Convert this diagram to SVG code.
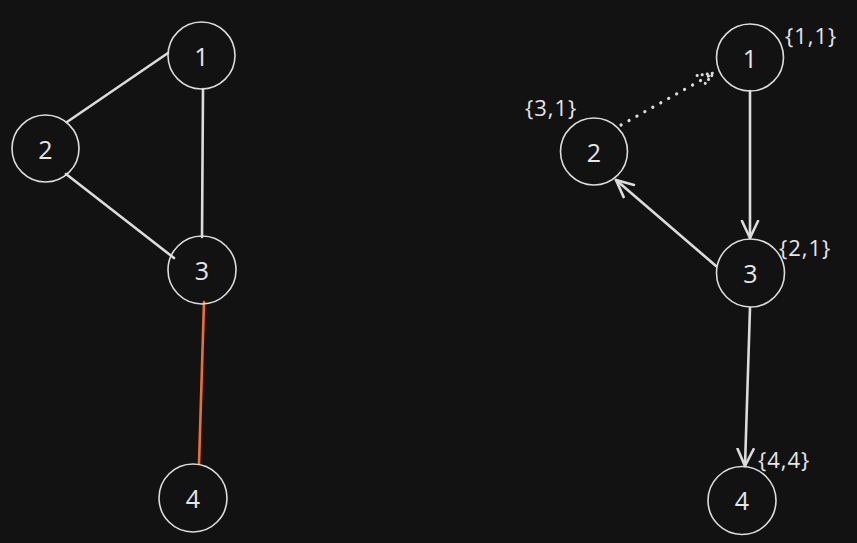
<svg xmlns="http://www.w3.org/2000/svg" width="857" height="543" viewBox="0 0 857 543">
<defs>
<style>
.node circle{fill:none;stroke:#dcdcdc;stroke-width:1.6}
.node text{fill:#e6e6e6;font-family:"Open Sans","Liberation Sans",sans-serif;font-size:25px;text-anchor:middle;dominant-baseline:central}
.node text.lbl{font-size:22px;text-anchor:start;dominant-baseline:auto;letter-spacing:1px}
.e{stroke:#dcdcdc;stroke-width:2.6;fill:none;stroke-linecap:round}
.dot{stroke-dasharray:0.1 9;stroke-width:3.2}
</style>
<marker id="ah" viewBox="0 0 20 20" refX="18" refY="10" markerWidth="20" markerHeight="20" markerUnits="userSpaceOnUse" orient="auto">
<path d="M1 2 L18 10 L1 18" fill="none" stroke="#dcdcdc" stroke-width="2.6" stroke-linecap="round" stroke-linejoin="round"/>
</marker>
<marker id="ahd" viewBox="0 0 20 20" refX="18" refY="10" markerWidth="20" markerHeight="20" markerUnits="userSpaceOnUse" orient="auto">
<path d="M2 4 L18 10 L2 16" fill="none" stroke="#dcdcdc" stroke-width="3" stroke-linecap="round" stroke-dasharray="0.1 5"/>
</marker>
</defs>
<rect width="857" height="543" fill="#121212"/>
<g id="connectors">
<line class="e" x1="168" y1="53" x2="67" y2="122"/>
<line class="e" x1="66" y1="174" x2="174" y2="258"/>
<line class="e" x1="203" y1="89" x2="202" y2="237"/>
<line class="e" x1="204" y1="302" x2="199" y2="464" style="stroke:#f07124"/>
<line class="e" x1="750" y1="91" x2="750" y2="238" marker-end="url(#ah)"/>
<line class="e" x1="716" y1="266" x2="616" y2="180" marker-end="url(#ah)"/>
<line class="e dot" x1="621" y1="125" x2="714" y2="73" marker-end="url(#ahd)"/>
<line class="e" x1="750" y1="308" x2="745" y2="466" marker-end="url(#ah)"/>
</g>
<g id="l1" class="node"><circle cx="201.5" cy="55.5" r="33.5"/><text x="201.5" y="56">1</text></g>
<g id="l2" class="node"><circle cx="45.5" cy="148.5" r="33.5"/><text x="45.5" y="149">2</text></g>
<g id="l3" class="node"><circle cx="202" cy="270" r="34"/><text x="202" y="270">3</text></g>
<g id="l4" class="node"><circle cx="193" cy="498" r="34"/><text x="193" y="498">4</text></g>
<g id="r1" class="node"><circle cx="750" cy="57.5" r="33.5"/><text x="750" y="58">1</text><text class="lbl" x="785" y="44">{1,1}</text></g>
<g id="r2" class="node"><circle cx="594" cy="151.5" r="33.5"/><text x="594" y="152">2</text><text class="lbl" x="525" y="116">{3,1}</text></g>
<g id="r3" class="node"><circle cx="750.5" cy="273" r="34"/><text x="750.5" y="273">3</text><text class="lbl" x="779" y="256">{2,1}</text></g>
<g id="r4" class="node"><circle cx="742" cy="500.5" r="34"/><text x="742" y="500">4</text><text class="lbl" x="758" y="468">{4,4}</text></g>
</svg>
